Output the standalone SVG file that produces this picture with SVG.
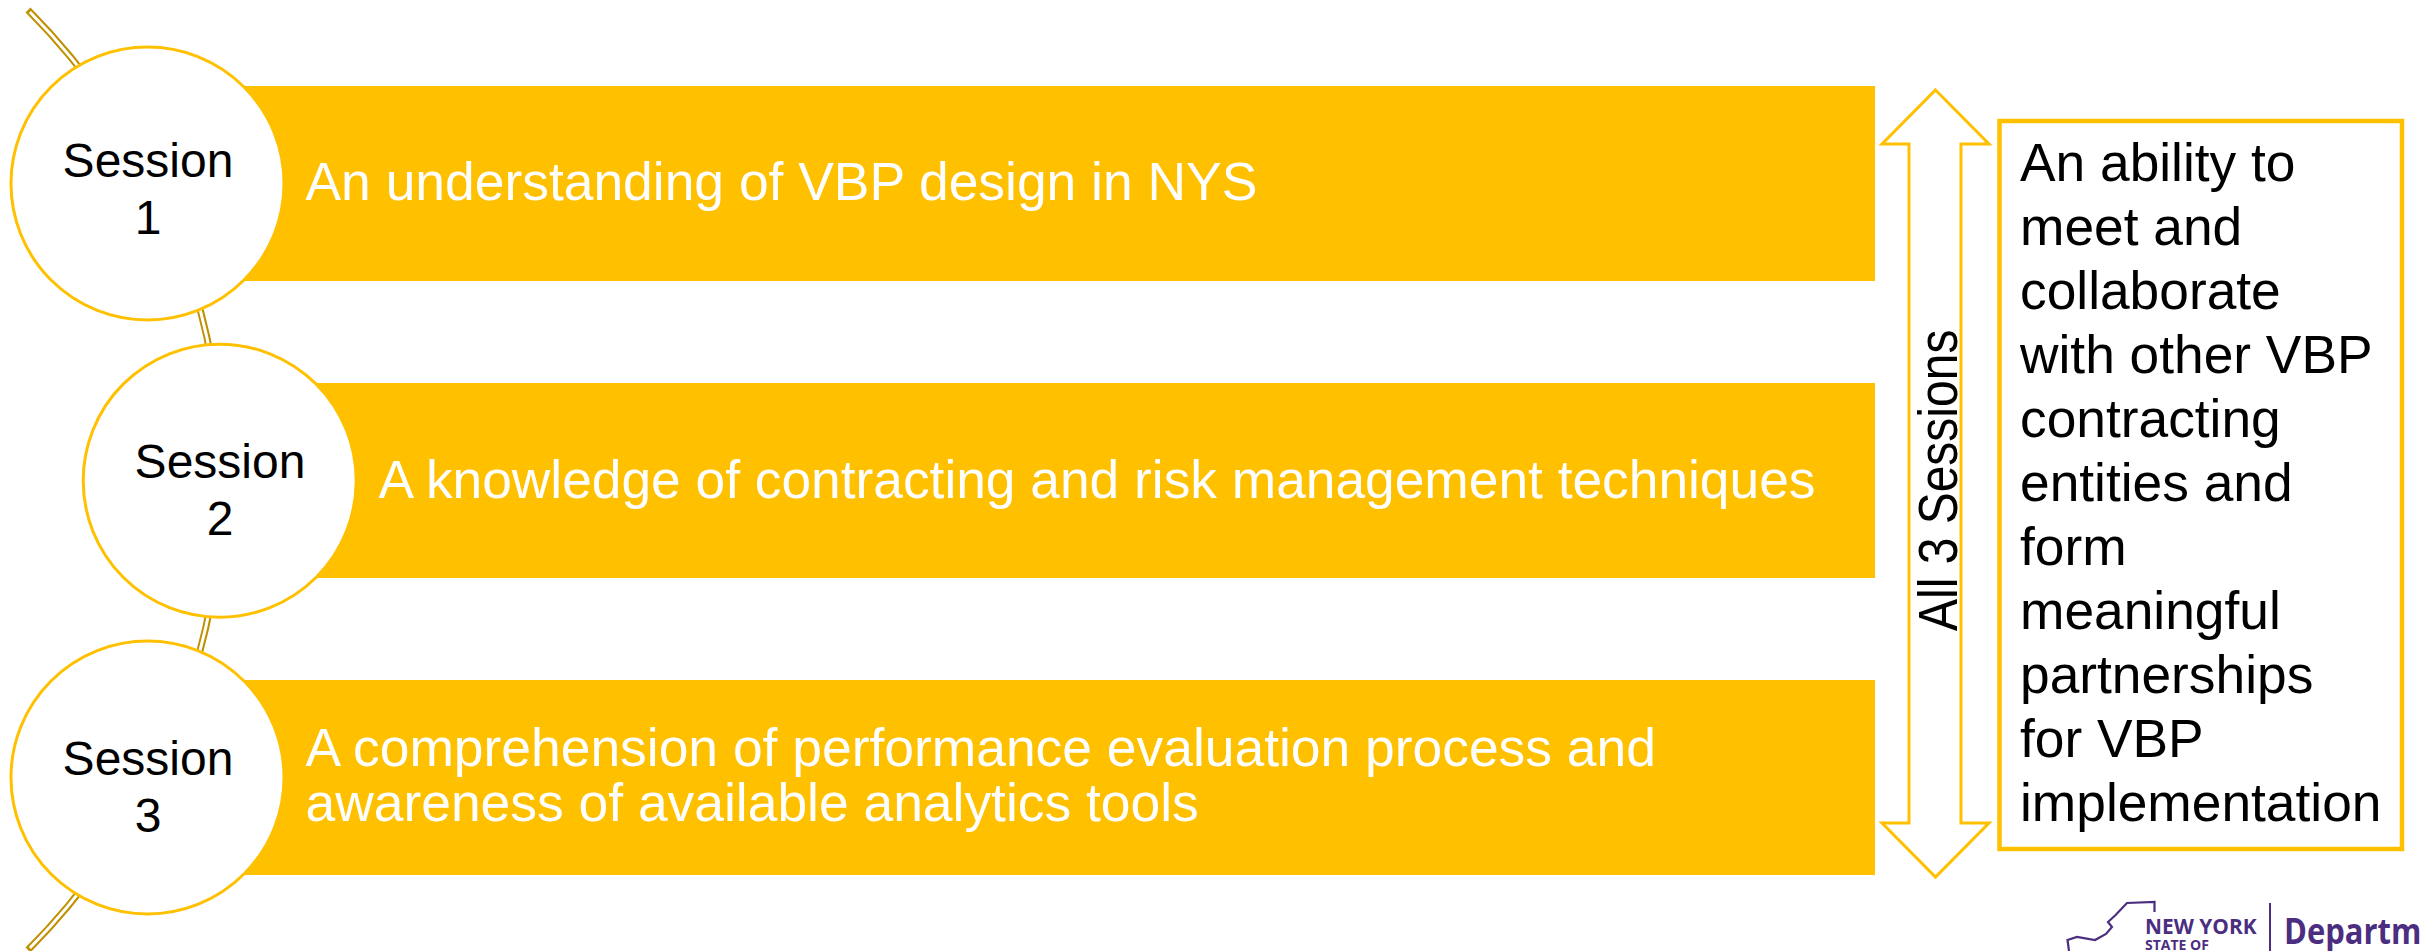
<svg xmlns="http://www.w3.org/2000/svg" width="2420" height="951" viewBox="0 0 2420 951">
<style>
text{font-family:"Liberation Sans",Arial,sans-serif}
.bar{fill:#FFC000}
.circ{fill:#fff;stroke:#FFC000;stroke-width:3}
.lab{font-size:48px;fill:#000;text-anchor:middle}
.big{font-size:53.4px;fill:#fff}
.side{font-size:53.3px;fill:#000}
.rot{font-size:48px;fill:#000}
.lg{fill:#4B2E7F;font-family:"Open Sans","Noto Sans",sans-serif;font-weight:700}
</style>
<rect width="2420" height="951" fill="#fff"/>
<g id="connectors">
<path d="M28 10A665.7 665.7 0 0 1 28 950" fill="none" stroke="#BF9000" stroke-width="7"/>
<path d="M29.9 12A665.7 665.7 0 0 1 29.9 948" fill="none" stroke="#fff" stroke-width="3"/>
</g>
<g id="item1">
<rect class="bar" x="148" y="86" width="1727" height="195"/>
<circle class="circ" cx="147.5" cy="183.5" r="136.5"/>
<text class="lab" x="148" y="177">Session</text>
<text class="lab" x="148" y="234">1</text>
<text class="big" x="305.5" y="200">An understanding of VBP design in NYS</text>
</g>
<g id="item2">
<rect class="bar" x="220" y="383" width="1655" height="195"/>
<circle class="circ" cx="219.7" cy="480.7" r="136.5"/>
<text class="lab" x="220" y="478">Session</text>
<text class="lab" x="220" y="535">2</text>
<text class="big" x="378.5" y="498" style="font-size:53.3px">A knowledge of contracting and risk management techniques</text>
</g>
<g id="item3">
<rect class="bar" x="148" y="680" width="1727" height="195"/>
<circle class="circ" cx="147.5" cy="777.5" r="136.5"/>
<text class="lab" x="148" y="775">Session</text>
<text class="lab" x="148" y="832">3</text>
<text class="big" x="305.5" y="766">A comprehension of performance evaluation process and</text>
<text class="big" x="305.5" y="821">awareness of available analytics tools</text>
</g>
<g id="all-sessions">
<path d="M1935.5 90L1989 144H1961V823H1989L1935.5 877L1882 823H1909V144H1882Z" fill="#fff" stroke="#FFC000" stroke-width="3"/>
<text class="rot" transform="translate(1957 631) rotate(-90) scale(1 1.14)">All 3 Sessions</text>
</g>
<g id="outcome">
<rect x="1999.5" y="121" width="402.5" height="728" fill="#fff" stroke="#FFC000" stroke-width="4.5"/>
<text class="side" x="2020" y="181">An ability to</text>
<text class="side" x="2020" y="245">meet and</text>
<text class="side" x="2020" y="309">collaborate</text>
<text class="side" x="2020" y="373">with other VBP</text>
<text class="side" x="2020" y="437">contracting</text>
<text class="side" x="2020" y="501">entities and</text>
<text class="side" x="2020" y="565">form</text>
<text class="side" x="2020" y="629">meaningful</text>
<text class="side" x="2020" y="693">partnerships</text>
<text class="side" x="2020" y="757">for VBP</text>
<text class="side" x="2020" y="821">implementation</text>
</g>
<g id="logo">
<path d="M2069 951L2067.5 940L2077 937L2095 940L2106 934L2112 927L2108 922L2115.6 915L2127 903L2154.5 902V912" fill="none" stroke="#4B2E7F" stroke-width="2.2"/>
<text class="lg" font-size="22" transform="translate(2145 934) scale(.95 1)">NEW YORK</text>
<text class="lg" x="2145" y="950" font-size="14">STATE OF</text>
<rect x="2269" y="903" width="2" height="48" fill="#4B2E7F"/>
<text class="lg" font-size="36" transform="translate(2284 944) scale(.86 1)">Departme</text>
</g>
</svg>
